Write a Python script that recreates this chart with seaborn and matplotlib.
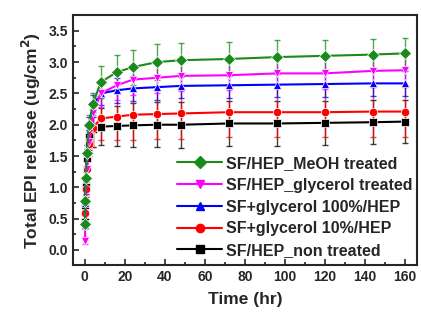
import numpy as np
import pandas as pd
import seaborn as sns
import matplotlib.pyplot as plt
from matplotlib.ticker import MultipleLocator

sns.set_style("ticks")
plt.rcParams["font.family"] = ["Liberation Sans", "DejaVu Sans"]
plt.rcParams["font.weight"] = "bold"

time_hr = [0.083, 0.25, 0.5, 1, 2, 4, 8, 16, 24, 36, 48, 72, 96, 120, 144, 160]

labels = ["SF/HEP_MeOH treated", "SF/HEP_glycerol treated", "SF+glycerol 100%/HEP",
          "SF+glycerol 10%/HEP", "SF/HEP_non treated"]
colors = ["#1a8a1a", "#ff00ff", "#0000ff", "#ff0000", "#000000"]
markers = ["D", "v", "^", "o", "s"]

meoh = [0.42, 0.78, 1.15, 1.55, 2.0, 2.33, 2.68, 2.84, 2.92, 3.0, 3.03, 3.05, 3.08, 3.10, 3.12, 3.14]
meoh_err = [0.05, 0.08, 0.1, 0.12, 0.15, 0.18, 0.26, 0.27, 0.28, 0.29, 0.27, 0.27, 0.27, 0.25, 0.25, 0.24]
gly_treated = [0.15, 0.42, 0.8, 1.3, 1.72, 2.18, 2.5, 2.63, 2.72, 2.75, 2.78, 2.79, 2.82, 2.82, 2.86, 2.87]
gly_treated_err = [0.05, 0.07, 0.1, 0.12, 0.15, 0.2, 0.22, 0.24, 0.24, 0.24, 0.24, 0.24, 0.24, 0.25, 0.25, 0.25]
gly100 = [0.40, 0.75, 1.22, 1.55, 1.97, 2.3, 2.5, 2.55, 2.58, 2.60, 2.62, 2.63, 2.64, 2.65, 2.66, 2.66]
gly100_err = [0.05, 0.07, 0.1, 0.12, 0.15, 0.17, 0.18, 0.2, 0.2, 0.2, 0.2, 0.2, 0.2, 0.2, 0.2, 0.2]
gly10 = [0.42, 0.59, 0.97, 1.3, 1.7, 1.95, 2.1, 2.13, 2.16, 2.17, 2.18, 2.20, 2.20, 2.20, 2.21, 2.21]
gly10_err = [0.08, 0.1, 0.12, 0.15, 0.2, 0.3, 0.35, 0.38, 0.4, 0.4, 0.4, 0.4, 0.4, 0.4, 0.4, 0.4]
non = [0.45, 0.72, 1.0, 1.47, 1.8, 1.93, 1.97, 1.98, 1.99, 2.0, 2.0, 2.02, 2.02, 2.03, 2.04, 2.05]
non_err = [0.05, 0.08, 0.1, 0.15, 0.2, 0.28, 0.3, 0.32, 0.35, 0.36, 0.37, 0.36, 0.36, 0.35, 0.35, 0.34]

values = [meoh, gly_treated, gly100, gly10, non]
errors = [meoh_err, gly_treated_err, gly100_err, gly10_err, non_err]

df = pd.concat([pd.DataFrame({"time": time_hr, "release": v, "err": e, "group": lab})
                for lab, v, e in zip(labels, values, errors)], ignore_index=True)

fig = plt.figure(figsize=(4.21, 3.22), dpi=100)
ax = fig.add_axes([0.173, 0.177, 0.817, 0.776])

# draw bottom series first so green ends on top
for lab, c in list(zip(labels, colors))[::-1]:
    sub = df[df["group"] == lab]
    ax.errorbar(sub["time"], sub["release"], yerr=sub["err"], fmt="none", ecolor=c,
                elinewidth=1.0, capsize=2.5, capthick=1.0, alpha=0.75, zorder=2)

sns.lineplot(data=df, x="time", y="release", hue="group", style="group",
             hue_order=labels[::-1], style_order=labels[::-1],
             palette=dict(zip(labels, colors)), markers=dict(zip(labels, markers)),
             dashes=False, markersize=6, linewidth=1.5, markeredgewidth=0.5,
             ax=ax, zorder=3, legend=False)

handles = [plt.Line2D([], [], color=c, marker=m, markersize=6, linewidth=1.5)
           for c, m in zip(colors, markers)]
ax.legend(handles, labels, loc="lower right", bbox_to_anchor=(1.015, -0.01), frameon=False,
          fontsize=11.5, handlelength=2.8, handletextpad=0.25, labelspacing=0.42,
          borderaxespad=0.2)

ax.set_xlim(-6, 166)
ax.set_ylim(-0.24, 3.75)
ax.xaxis.set_major_locator(MultipleLocator(20))
ax.xaxis.set_minor_locator(MultipleLocator(10))
ax.yaxis.set_major_locator(MultipleLocator(0.5))
ax.yaxis.set_minor_locator(MultipleLocator(0.25))
ax.set_yticks(np.arange(0, 3.51, 0.5))
ax.tick_params(which="both", direction="in", top=False, right=False, width=1.2)
ax.tick_params(which="major", length=4, labelsize=10)
ax.tick_params(which="minor", length=2.5)
for s in ax.spines.values():
    s.set_linewidth(1.5)
for lbl in ax.get_xticklabels() + ax.get_yticklabels():
    lbl.set_fontweight("bold")

ax.set_xlabel("Time (hr)", fontsize=12.5, fontweight="bold", labelpad=6)
ax.set_ylabel("Total EPI release (ug/cm$^{\\mathbf{2}}$)", fontsize=12.5, fontweight="bold", labelpad=4)

fig.savefig("out.png", dpi=100)
